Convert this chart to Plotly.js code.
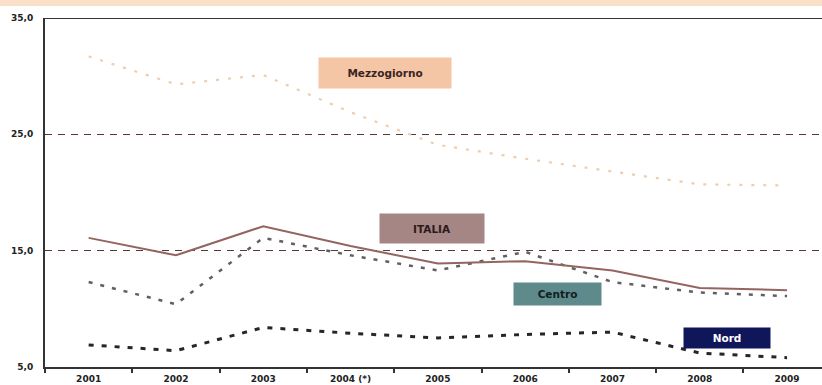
<!DOCTYPE html>
<html>
<head>
<meta charset="utf-8">
<script src="https://cdn.plot.ly/plotly-3.0.1.min.js"></script>
<style>html,body{margin:0;padding:0;background:#fff;}#chart{width:822px;height:385px;}</style>
</head>
<body>
<div id="chart"></div>
<script>
const years = ["2001","2002","2003","2004 (*)","2005","2006","2007","2008","2009"];
const mezzogiorno = [31.7, 29.3, 30.1, 26.9, 24.1, 22.9, 21.8, 20.7, 20.6];
const italia = [16.1, 14.6, 17.1, 15.4, 13.9, 14.1, 13.3, 11.8, 11.6];
const centro = [12.3, 10.4, 16.1, 14.6, 13.3, 14.9, 12.3, 11.4, 11.1];
const nord = [6.9, 6.4, 8.4, 7.9, 7.5, 7.8, 8.0, 6.2, 5.8];
const yTicks = [5, 15, 25, 35];

const traces = [
  {x: years, y: mezzogiorno, mode: 'lines', line: {color: '#efcdac', width: 2.2, dash: '3px,9px'}, name: 'Mezzogiorno'},
  {x: years, y: centro, mode: 'lines', line: {color: '#606060', width: 2.5, dash: '4px,8px'}, name: 'Centro'},
  {x: years, y: nord, mode: 'lines', line: {color: '#262626', width: 3, dash: '5px,8px'}, name: 'Nord'},
  {x: years, y: italia, mode: 'lines', line: {color: '#946460', width: 2}, name: 'ITALIA'}
];

const boxFont = {family: 'DejaVu Sans', size: 10.5, weight: 'bold'};
const tickFont = {family: 'DejaVu Sans', size: 9, color: '#222', weight: 'bold'};
const layout = {
  width: 822, height: 385,
  margin: {l: 45, r: 0, t: 18, b: 18},
  paper_bgcolor: '#ffffff', plot_bgcolor: '#ffffff',
  showlegend: false,
  separators: ',.',
  xaxis: {
    type: 'category', range: [-0.5, 8.4],
    showgrid: false, zeroline: false,
    showline: true, linecolor: '#333333', linewidth: 2,
    ticks: 'outside', ticklen: 4, tickwidth: 2, tickcolor: '#333333',
    tickson: 'boundaries', ticklabelstandoff: 2,
    tickfont: tickFont
  },
  yaxis: {
    range: [5, 35], tickvals: yTicks, tickformat: '.1f',
    showgrid: true, gridcolor: '#5a3838', griddash: '7px,6px', gridwidth: 1.3,
    zeroline: false,
    showline: true, linecolor: '#333333', linewidth: 2,
    ticks: '', ticklen: 0, ticklabelstandoff: 8,
    tickfont: tickFont
  },
  shapes: [
    {type: 'line', xref: 'paper', yref: 'y', x0: 0, x1: 1, y0: 35, y1: 35, line: {color: '#333333', width: 2}},
    {type: 'rect', xref: 'paper', yref: 'paper', x0: -0.06, x1: 1, y0: 1 + 12/349, y1: 1 + 18/349, fillcolor: '#fbe0c9', line: {width: 0}}
  ],
  annotations: [
    {x: 3.40, y: 30.28, xref: 'x', yref: 'y', text: 'Mezzogiorno', showarrow: false, bgcolor: '#f5c6a6', width: 130, height: 28, font: Object.assign({color: '#3a2424'}, boxFont)},
    {x: 3.93, y: 16.91, xref: 'x', yref: 'y', text: 'ITALIA', showarrow: false, bgcolor: '#a68585', width: 102, height: 27, font: Object.assign({color: '#2a1a1a'}, boxFont)},
    {x: 5.37, y: 11.28, xref: 'x', yref: 'y', text: 'Centro', showarrow: false, bgcolor: '#5e8a8c', width: 85, height: 20, font: Object.assign({color: '#102020'}, boxFont)},
    {x: 7.31, y: 7.49, xref: 'x', yref: 'y', text: 'Nord', showarrow: false, bgcolor: '#10165a', width: 84, height: 18, font: Object.assign({color: '#ffffff'}, boxFont)}
  ]
};

Plotly.newPlot('chart', traces, layout, {displayModeBar: false, staticPlot: true});
</script>
</body>
</html>
